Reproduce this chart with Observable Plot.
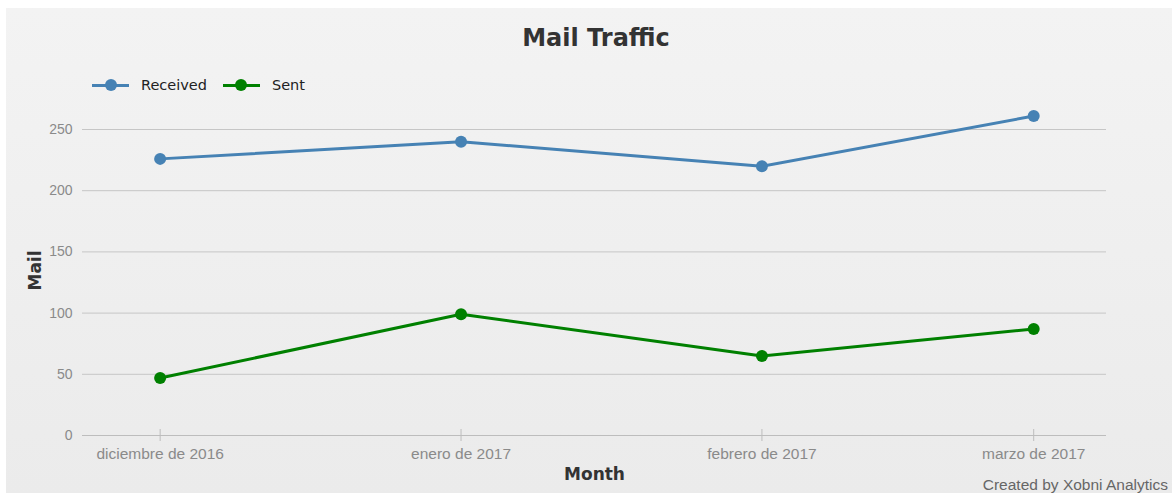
<!DOCTYPE html>
<html>
<head>
<meta charset="utf-8">
<script src="https://cdn.jsdelivr.net/npm/d3@7"></script>
<script src="https://cdn.jsdelivr.net/npm/@observablehq/plot@0.6"></script>
<style>
  html, body { margin: 0; padding: 0; background: #fff; }
  #wrap { position: relative; width: 1172px; height: 493px; overflow: hidden; }
  #bg { position: absolute; left: 6px; top: 8px; right: 0; bottom: 0;
        background: linear-gradient(#f3f3f3, #ebebeb); }
  #chart { position: absolute; left: 0; top: 0; }
  .title { position: absolute; left: 0; width: 1192px; top: 24px; text-align: center; line-height: 28px;
           font: bold 24px "DejaVu Sans", sans-serif; color: #333; }
  .legend { position: absolute; left: 92px; top: 75px; display: flex; align-items: center;
            font: 14.5px "DejaVu Sans", sans-serif; color: #222; }
  .sw { position: relative; width: 37px; height: 20px; margin-right: 12px; }
  .sw .ln { position: absolute; left: 0; right: 0; top: 8.5px; height: 3px; }
  .sw .dt { position: absolute; left: 12.5px; top: 4px; width: 12px; height: 12px; border-radius: 50%; }
  .item { display: flex; align-items: center; margin-right: 16px; }
  .caption { position: absolute; right: 4px; top: 476px; line-height: 18px;
             font: 15.5px "Liberation Sans", Arial, sans-serif; color: #666; }
</style>
</head>
<body>
<div id="wrap">
  <div id="bg"></div>
  <div id="chart"></div>
  <div class="title">Mail Traffic</div>
  <div class="legend" id="legend"></div>
  <div class="caption">Created by Xobni Analytics</div>
</div>
<script>
const months = ["2016-12-01", "2017-01-01", "2017-02-01", "2017-03-01"];
const monthLabels = ["diciembre de 2016", "enero de 2017", "febrero de 2017", "marzo de 2017"];
const received = [226, 240, 220, 261];
const sent = [47, 99, 65, 87];
const seriesNames = ["Received", "Sent"];
const seriesColors = ["#4682b4", "#008000"];
const yTicks = [0, 50, 100, 150, 200, 250];

const dates = months.map(m => new Date(m + "T00:00:00Z"));
const rows = [];
dates.forEach((d, i) => {
  rows.push({date: d, value: received[i], series: seriesNames[0]});
  rows.push({date: d, value: sent[i], series: seriesNames[1]});
});
const labelOf = new Map(dates.map((d, i) => [+d, monthLabels[i]]));

const chart = Plot.plot({
  width: 1172,
  height: 493,
  marginLeft: 82,
  marginRight: 66,
  marginTop: 129,
  marginBottom: 58,
  style: { background: "transparent", fontFamily: "'Liberation Sans', Arial, sans-serif", fontSize: "14px", overflow: "visible" },
  x: {
    type: "utc",
    domain: [new Date(Date.UTC(2016, 10, 23)), new Date(Date.UTC(2017, 2, 8, 12))],
    ticks: dates,
    tickFormat: d => labelOf.get(+d),
    label: null
  },
  y: { domain: [0, 250], ticks: yTicks, label: null },
  color: { domain: seriesNames, range: seriesColors },
  marks: [
    Plot.ruleY(yTicks.filter(v => v > 0), { stroke: "#c6c6c6", strokeWidth: 1 }),
    Plot.ruleY([0], { stroke: "#bdbdbd", strokeWidth: 1 }),
    Plot.ruleX(dates, { x: d => d, y1: 0, y2: 4.9, stroke: "#bdbdbd" }),
    Plot.axisX({ ticks: dates, tickFormat: d => labelOf.get(+d), tickSize: 6, stroke: "#bdbdbd", tickPadding: 6, fill: "#8a8a8a", fontSize: 15.5, label: null }),
    Plot.axisY({ ticks: yTicks, tickSize: 0, tickPadding: 10, fill: "#8a8a8a", fontSize: 14, label: null }),
    Plot.line(rows, { x: "date", y: "value", stroke: "series", strokeWidth: 3, z: "series", clip: false }),
    Plot.dot(rows, { x: "date", y: "value", fill: "series", r: 6, clip: false }),
    Plot.text(["Month"], { frameAnchor: "bottom", lineAnchor: "middle", textAnchor: "middle", dy: 39, text: d => d, fontWeight: "bold", fontSize: 17, fill: "#333", fontFamily: "DejaVu Sans" }),
    Plot.text(["Mail"], { frameAnchor: "left", lineAnchor: "middle", textAnchor: "middle", dx: -47, dy: -12, rotate: -90, text: d => d, fontWeight: "bold", fontSize: 17, fill: "#333", fontFamily: "DejaVu Sans" })
  ]
});
document.getElementById("chart").appendChild(chart);

const legend = document.getElementById("legend");
seriesNames.forEach((name, i) => {
  const item = document.createElement("div");
  item.className = "item";
  item.innerHTML = `<div class="sw"><div class="ln" style="background:${seriesColors[i]}"></div><div class="dt" style="background:${seriesColors[i]}"></div></div><span>${name}</span>`;
  legend.appendChild(item);
});
</script>
</body>
</html>
